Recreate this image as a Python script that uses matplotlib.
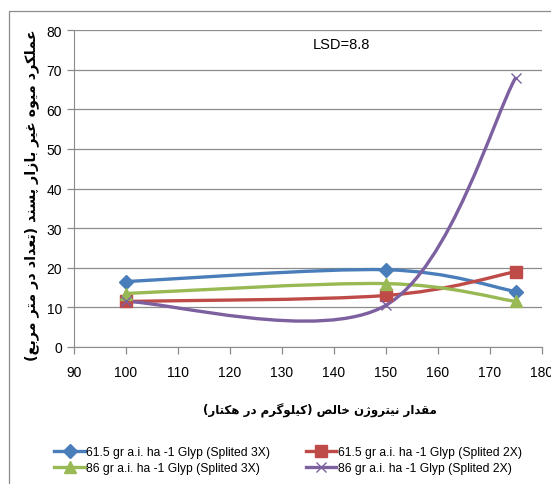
import numpy as np
import matplotlib
matplotlib.use("Agg")
import matplotlib.pyplot as plt
from matplotlib.path import Path
from matplotlib.patches import PathPatch, Rectangle
from matplotlib.lines import Line2D

# data
nitrogen = [100, 150, 175]
blue_vals = [16.5, 19.5, 14.0]     # 61.5 gr, split 3X
red_vals = [11.5, 13.0, 19.0]      # 61.5 gr, split 2X
green_vals = [13.5, 16.0, 11.5]    # 86 gr, split 3X
purple_vals = [11.5, 10.5, 68.0]   # 86 gr, split 2X
labels = ["61.5 gr a.i. ha -1 Glyp (Splited 3X)",
          "61.5 gr a.i. ha -1 Glyp (Splited 2X)",
          "86 gr a.i. ha -1 Glyp (Splited 3X)",
          "86 gr a.i. ha -1 Glyp (Splited 2X)"]
xlabel_fa = "مقدار نیتروژن خالص (کیلوگرم در هکتار)"
ylabel_fa = "عملکرد میوه غیر بازار پسند (تعداد در متر مربع)"
lsd_text = "LSD=8.8"

# simple persian shaping: (isolated, final, initial, medial)
FORMS = {
    'ا': ('\uFE8D', '\uFE8E', None, None), 'ب': ('\uFE8F', '\uFE90', '\uFE91', '\uFE92'),
    'پ': ('\uFB56', '\uFB57', '\uFB58', '\uFB59'), 'ت': ('\uFE95', '\uFE96', '\uFE97', '\uFE98'),
    'خ': ('\uFEA5', '\uFEA6', '\uFEA7', '\uFEA8'), 'د': ('\uFEA9', '\uFEAA', None, None),
    'ر': ('\uFEAD', '\uFEAE', None, None), 'ز': ('\uFEAF', '\uFEB0', None, None),
    'ژ': ('\uFB8A', '\uFB8B', None, None), 'س': ('\uFEB1', '\uFEB2', '\uFEB3', '\uFEB4'),
    'ص': ('\uFEB9', '\uFEBA', '\uFEBB', '\uFEBC'), 'ع': ('\uFEC9', '\uFECA', '\uFECB', '\uFECC'),
    'غ': ('\uFECD', '\uFECE', '\uFECF', '\uFED0'), 'ق': ('\uFED5', '\uFED6', '\uFED7', '\uFED8'),
    'ک': ('\uFB8E', '\uFB8F', '\uFB90', '\uFB91'), 'گ': ('\uFB92', '\uFB93', '\uFB94', '\uFB95'),
    'ل': ('\uFEDD', '\uFEDE', '\uFEDF', '\uFEE0'), 'م': ('\uFEE1', '\uFEE2', '\uFEE3', '\uFEE4'),
    'ن': ('\uFEE5', '\uFEE6', '\uFEE7', '\uFEE8'), 'ه': ('\uFEE9', '\uFEEA', '\uFEEB', '\uFEEC'),
    'و': ('\uFEED', '\uFEEE', None, None), 'ی': ('\uFBFC', '\uFBFD', '\uFBFE', '\uFBFF'),
}


def shape(s):
    out = []
    for i, c in enumerate(s):
        if c not in FORMS:
            out.append(c)
            continue
        prev = s[i - 1] if i > 0 else ''
        nxt = s[i + 1] if i + 1 < len(s) else ''
        join_prev = prev in FORMS and FORMS[prev][2] is not None
        join_next = nxt in FORMS and FORMS[c][2] is not None
        f = FORMS[c]
        if join_prev and join_next:
            out.append(f[3])
        elif join_prev:
            out.append(f[1])
        elif join_next:
            out.append(f[2])
        else:
            out.append(f[0])
    vis = ''.join(reversed(out))
    return vis.translate(str.maketrans('()', ')('))


def smooth_path(xs, ys):
    # excel style smoothed line: bezier with catmull-rom like handles
    pts = list(zip(xs, ys))
    verts = [pts[0]]
    codes = [Path.MOVETO]
    n = len(pts)
    for i in range(n - 1):
        p0 = pts[i - 1] if i > 0 else pts[i]
        p1, p2 = pts[i], pts[i + 1]
        p3 = pts[i + 2] if i + 2 < n else pts[i + 1]
        c1 = (p1[0] + (p2[0] - p0[0]) / 6, p1[1] + (p2[1] - p0[1]) / 6)
        c2 = (p2[0] - (p3[0] - p1[0]) / 6, p2[1] - (p3[1] - p1[1]) / 6)
        verts += [c1, c2, p2]
        codes += [Path.CURVE4] * 3
    return Path(verts, codes)


plt.rcParams['font.family'] = ['Liberation Sans', 'DejaVu Sans']

fig = plt.figure(figsize=(5.51, 4.85), dpi=100)
fig.patches.append(Rectangle((9 / 551, -0.1), 1.2, 1 - 12 / 485 + 0.1,
                             transform=fig.transFigure, fill=False,
                             edgecolor='#8c8c8c', linewidth=0.9))
ax = fig.add_axes([0.1338, 0.2825, 0.8493, 0.6535])

series = [
    (blue_vals, '#4A7EBB', 'D', 7),
    (red_vals, '#BE4B48', 's', 8),
    (green_vals, '#98B954', '^', 8),
    (purple_vals, '#7D60A0', 'x', 7),
]
handles = []
for (vals, col, mk, ms), lab in zip(series, labels):
    ax.add_patch(PathPatch(smooth_path(nitrogen, vals), fill=False,
                           edgecolor=col, linewidth=2.4, zorder=3))
    ax.plot(nitrogen, vals, linestyle='none', marker=mk, markersize=ms,
            color=col, markeredgecolor=col, zorder=4)
    handles.append(Line2D([], [], color=col, linewidth=2.4, marker=mk,
                          markersize=ms, label=lab))

ax.set_xlim(90, 180)
ax.set_ylim(0, 80)
ax.set_xticks(np.arange(90, 181, 10))
ax.set_yticks(np.arange(0, 81, 10))
ax.yaxis.grid(True, color='#8c8c8c', linewidth=0.9)
ax.set_axisbelow(True)
for sp in ['top', 'right']:
    ax.spines[sp].set_visible(False)
for sp in ['left', 'bottom']:
    ax.spines[sp].set_color('#8c8c8c')
ax.tick_params(axis='both', colors='#8c8c8c', labelcolor='black', labelsize=10,
               length=5, width=0.9)
ax.tick_params(axis='x', pad=8)

ax.text(0.573, 0.956, lsd_text, transform=ax.transAxes, ha='center',
        va='center', fontsize=10.5)

fig.text(320 / 551, 1 - 411 / 485, shape(xlabel_fa), ha='center', va='center',
         fontsize=8.5, fontweight='bold', family='DejaVu Sans')
fig.text(32 / 551, 1 - 195 / 485, shape(ylabel_fa), ha='center', va='center',
         rotation=90, fontsize=10.3, fontweight='bold', family='DejaVu Sans')

# row-wise order: blue, red / green, purple
order = [0, 2, 1, 3]
fig.legend(handles=[handles[i] for i in order], loc='center',
           bbox_to_anchor=(288 / 551, 1 - 461 / 485),
           ncol=2, frameon=False, fontsize=8.7, handlelength=2.5,
           handletextpad=0.1, columnspacing=3.0, labelspacing=0.35)

fig.savefig('out.png', dpi=100)
